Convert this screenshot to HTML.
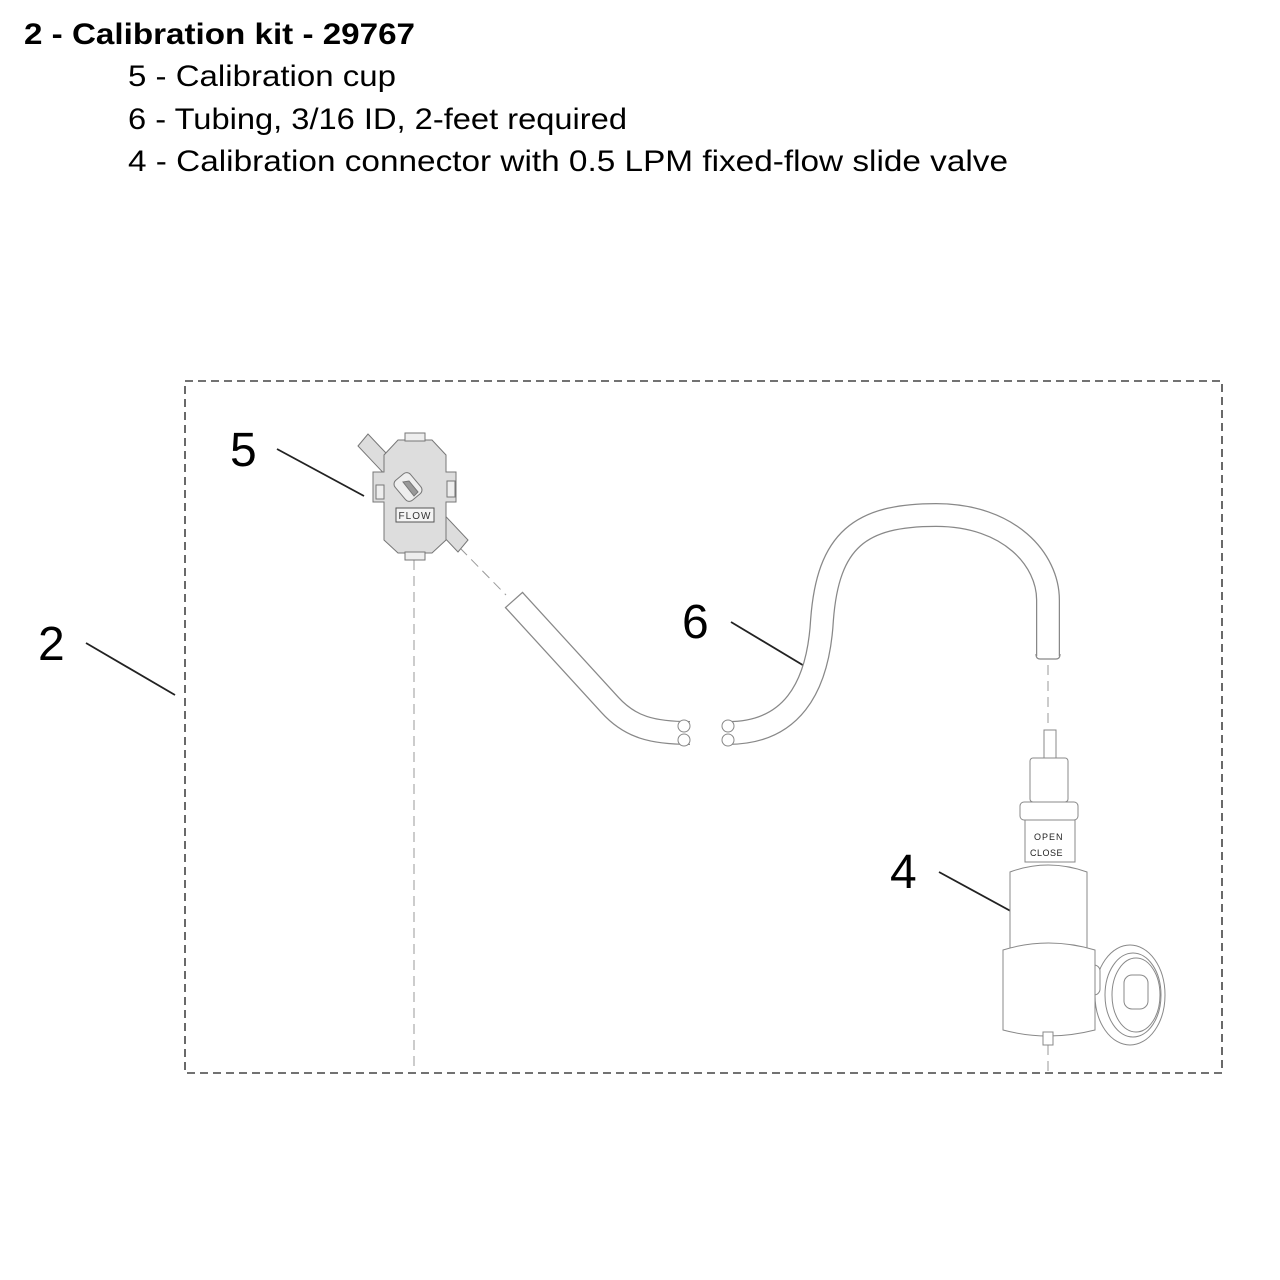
<!DOCTYPE html>
<html><head><meta charset="utf-8"><style>
html,body{margin:0;padding:0;background:#fff;}
svg{display:block;}
text{font-family:"Liberation Sans",sans-serif;}
</style></head><body>
<svg width="1280" height="1280" viewBox="0 0 1280 1280" xmlns="http://www.w3.org/2000/svg">
<rect width="1280" height="1280" fill="#fff"/>
<text x="24" y="44" font-size="30" font-weight="bold" textLength="391" lengthAdjust="spacingAndGlyphs">2 - Calibration kit - 29767</text>
<text x="128" y="86" font-size="30" textLength="268" lengthAdjust="spacingAndGlyphs">5 - Calibration cup</text>
<text x="128" y="129" font-size="30" textLength="499" lengthAdjust="spacingAndGlyphs">6 - Tubing, 3/16 ID, 2-feet required</text>
<text x="128" y="171" font-size="30" textLength="880" lengthAdjust="spacingAndGlyphs">4 - Calibration connector with 0.5 LPM  fixed-flow slide valve</text>

<rect x="185" y="381" width="1037" height="692" fill="none" stroke="#444" stroke-width="1.6" stroke-dasharray="8,5"/>

<text x="38" y="660" font-size="48">2</text>
<line x1="86" y1="643" x2="175" y2="695" stroke="#222" stroke-width="1.8"/>
<text x="230" y="466" font-size="48">5</text>
<line x1="277" y1="449" x2="364" y2="496" stroke="#222" stroke-width="1.8"/>
<text x="682" y="638" font-size="48">6</text>
<line x1="731" y1="622" x2="816" y2="673" stroke="#222" stroke-width="1.8"/>
<text x="890" y="888" font-size="48">4</text>
<line x1="939" y1="872" x2="1029" y2="921" stroke="#222" stroke-width="1.8"/>

<g stroke="#999" stroke-width="1" stroke-dasharray="10,6" fill="none">
<line x1="414" y1="560" x2="414" y2="1072"/>
<line x1="460" y1="548" x2="506" y2="595"/>
<line x1="1048" y1="665" x2="1048" y2="728"/>
<line x1="1048" y1="1045" x2="1048" y2="1072"/>
</g>

<g fill="none" stroke-linecap="butt">
<path d="M514,600 L610,705 C630,727 652,733 690,733" stroke="#888" stroke-width="24"/>
<path d="M514,600 L610,705 C630,727 652,733 690,733" stroke="#fff" stroke-width="21.5"/>
<path d="M728,733 C790,733 818,690 822,620 C828,540 860,515 936,515 C1010,515 1048,560 1048,600 L1048,656" stroke="#888" stroke-width="24"/>
<path d="M728,733 C790,733 818,690 822,620 C828,540 860,515 936,515 C1010,515 1048,560 1048,600 L1048,656" stroke="#fff" stroke-width="21.5"/>
</g>
<line x1="505" y1="608" x2="523" y2="592" stroke="#888" stroke-width="1.2"/>
<path d="M1036,654 Q1036,659 1040,659 L1056,659 Q1060,659 1060,654" fill="none" stroke="#888" stroke-width="1.2"/>
<g fill="#fff" stroke="#888" stroke-width="1">
<circle cx="684" cy="726" r="6"/><circle cx="684" cy="740" r="6"/>
<circle cx="728" cy="726" r="6"/><circle cx="728" cy="740" r="6"/>
</g>

<g stroke="#777" stroke-width="1" fill="#ddd">
<path d="M358,446 L368,434 L468,540 L458,552 Z"/>
<path d="M398,440 L432,440 L446,455 L446,472 L456,472 L456,502 L446,502 L446,540 L432,553 L398,553 L384,540 L384,502 L373,502 L373,472 L384,472 L384,455 Z"/>
<rect x="405" y="433" width="20" height="8" fill="#eee"/>
<rect x="405" y="552" width="20" height="8" fill="#eee"/>
<rect x="376" y="485" width="8" height="14" fill="#eee"/>
<rect x="447" y="481" width="8" height="16" fill="#eee"/>
<rect x="398" y="474" width="20" height="26" rx="5" transform="rotate(-40 408 487)" fill="#eee"/>
<path d="M403,482 L409,481 L418,492 L414,496 Z" fill="#999"/>
<rect x="396" y="508" width="38" height="14" fill="#f4f4f4" stroke="#555"/>
</g>
<text x="415" y="519" font-size="10" text-anchor="middle" fill="#333" letter-spacing="1">FLOW</text>

<g stroke="#888" stroke-width="1" fill="#fff">
<ellipse cx="1130" cy="995" rx="35" ry="50"/>
<ellipse cx="1133" cy="995" rx="28" ry="42"/>
<ellipse cx="1136" cy="995" rx="24" ry="37"/>
<rect x="1124" y="975" width="24" height="34" rx="8"/>
<rect x="1082" y="965" width="18" height="30" rx="6"/>
<rect x="1044" y="730" width="12" height="30"/>
<rect x="1030" y="758" width="38" height="44" rx="3"/>
<rect x="1020" y="802" width="58" height="18" rx="4"/>
<rect x="1025" y="820" width="50" height="42"/>
<path d="M1010,872 Q1048,858 1087,872 L1087,950 L1010,950 Z"/>
<path d="M1003,950 Q1048,936 1095,950 L1095,1030 Q1048,1042 1003,1030 Z"/>
<rect x="1043" y="1032" width="10" height="13"/>
</g>
<text x="1034" y="840" font-size="9" fill="#222" letter-spacing="1">OPEN</text>
<text x="1030" y="856" font-size="9" fill="#222" letter-spacing="0.5">CLOSE</text>
</svg>
</body></html>
